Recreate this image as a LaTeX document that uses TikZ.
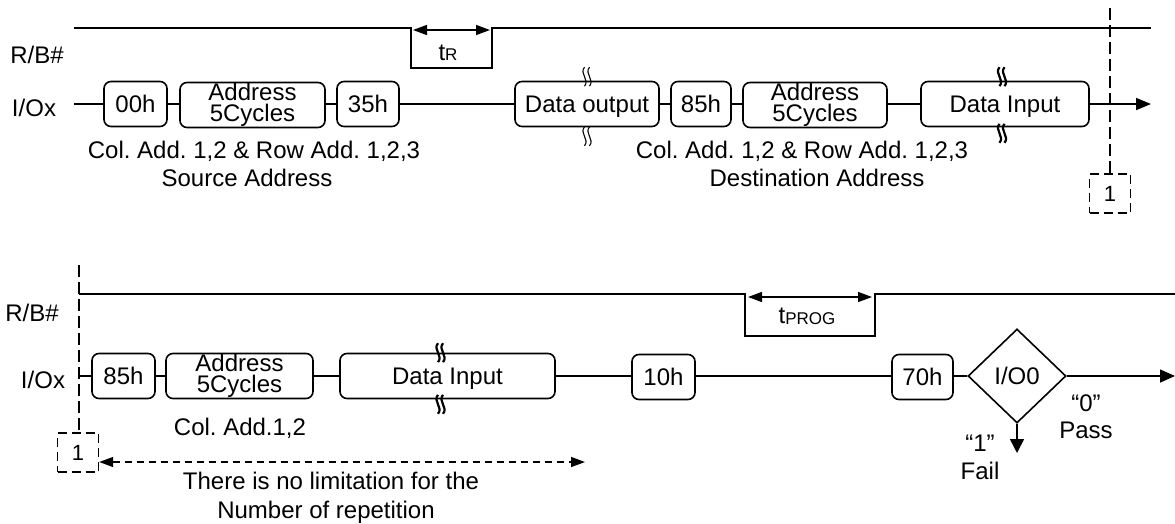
\documentclass[tikz,border=0pt]{standalone}
\usepackage{fontspec}
\setmainfont{Liberation Sans}
\usetikzlibrary{arrows.meta,shapes.geometric}
\tikzset{
  squig/.pic={
    \draw (-2.5,-9.5) .. controls (-8,-3) and (3,3) .. (-2.5,9.5);
    \draw (2.5,-9.5) .. controls (-3,-3) and (8,3) .. (2.5,9.5);
  }
}
\begin{document}
\frenchspacing
\begin{tikzpicture}[x=1pt,y=-1pt,line width=1.6pt,
  every node/.style={font=\fontsize{24}{21}\selectfont, inner sep=0pt},
  txt/.style={text height=17pt,text depth=0pt},
  cell/.style={draw,rounded corners=7pt,minimum height=45pt,align=center},
  dbox/.style={draw,dash pattern=on 9pt off 5pt,minimum width=41pt,minimum height=39pt,
    font=\fontsize{22}{22}\selectfont,text height=15.5pt,text depth=0pt,line width=1.4pt},
  dline/.style={dash pattern=on 12pt off 5pt,line width=1.4pt},
  tip/.style={-{Triangle[length=15pt,width=12pt]}},
  dtip/.style={{Triangle[length=14pt,width=10pt]}-{Triangle[length=14pt,width=10pt]}},
  thin squig/.style={line width=1.1pt},
  bold squig/.style={line width=2.2pt}
]
\useasboundingbox (0,0) rectangle (1175,523);

% ---------------- top diagram ----------------
\node[txt] (rb1) at (37,55) {R/B\#};
\node[txt] (io1) at (34,108) {I/Ox};

% R/B# waveform
\draw (74,28) -- (411,28) -- (411,68) -- (492,68) -- (492,28) -- (1151,28);
\coordinate (trL) at (413,30);
\coordinate (trR) at (490,30);
\draw[dtip,line width=1.4pt] (trL) -- (trR);
\node[txt] (tr) at (448,52) {t{\fontsize{17}{17}\selectfont R}};

% I/O row
\coordinate (iostart1) at (74,104);
\coordinate (ioend1) at (1151,104);
\node[cell,txt,minimum width=63pt] (c00) at (135.5,104) {00h};
\node[cell,minimum width=145pt] (a1) at (252.5,105) {Address\\5Cycles};
\node[cell,txt,minimum width=62pt] (c35) at (368,104) {35h};
\node[cell,txt,minimum width=144pt] (dout) at (587,104) {Data output};
\node[cell,txt,minimum width=60pt] (c85) at (701,104) {85h};
\node[cell,minimum width=144pt] (a2) at (815,105) {Address\\5Cycles};
\node[cell,txt,minimum width=168pt] (din1) at (1005,104) {Data Input};

\draw (iostart1) -- (c00.west);
\draw (c00.east) -- (c00.east -| a1.west);
\draw (a1.east |- c35.west) -- (c35.west);
\draw (c35.east) -- (dout.west);
\draw (dout.east) -- (c85.west);
\draw (c85.east) -- (c85.east -| a2.west);
\draw (a2.east |- din1.west) -- (din1.west);
\draw[tip] (din1.east) -- (ioend1);

\pic[thin squig] at ([yshift=4pt]dout.north) {squig};
\pic[thin squig] at ([yshift=-9pt]dout.south) {squig};
\pic[bold squig] at ([yshift=4pt,xshift=-3pt]din1.north) {squig};
\pic[bold squig] at ([yshift=-6pt,xshift=-3pt]din1.south) {squig};

\node[txt] (s1) at (254,150) {Col. Add. 1,2 \& Row Add. 1,2,3};
\node[txt] (s2) at (247,178) {Source Address};
\node[txt] (d1) at (802,150) {Col. Add. 1,2 \& Row Add. 1,2,3};
\node[txt] (d2) at (817,178) {Destination Address};

\coordinate (v1top) at (1110,8);
\node[dbox] (r1) at (1110,193.5) {1};
\draw[dline] (v1top) -- (r1.north);

% ---------------- bottom diagram ----------------
\node[txt] (rb2) at (32,313) {R/B\#};
\node[txt] (io2) at (43,380) {I/Ox};

\draw (79,294) -- (745,294) -- (745,336) -- (875,336) -- (875,294) -- (1175,294);
\coordinate (tpL) at (748,297);
\coordinate (tpR) at (872,297);
\draw[dtip,line width=1.4pt] (tpL) -- (tpR);
\node[txt] (tp) at (807,315) {t{\fontsize{17}{17}\selectfont\raisebox{-1pt}{PROG}}};

\coordinate (v2top) at (79,265);
\node[dbox] (r2) at (78,452.5) {1};
\draw[dline] (v2top) -- (r2.north -| v2top);

\coordinate (iostart2) at (79,376);
\coordinate (ioend2) at (1175,376);
\node[cell,txt,minimum width=63pt] (b85) at (123.5,376) {85h};
\node[cell,minimum width=147pt] (a3) at (239.5,376) {Address\\5Cycles};
\node[cell,txt,minimum width=215pt] (din2) at (447.5,376) {Data Input};
\node[cell,txt,minimum width=63pt] (c10) at (663.5,377) {10h};
\node[cell,txt,minimum width=61pt] (c70) at (922.5,377) {70h};
\node[draw,diamond,minimum width=98pt,minimum height=94pt,txt] (dec) at (1017,376) {I/O0};

\draw (iostart2) -- (b85.west |- iostart2);
\draw (b85.east) -- (b85.east -| a3.west);
\draw (a3.east) -- (a3.east -| din2.west);
\draw (din2.east) -- (din2.east -| c10.west);
\draw (c10.east |- dec.west) -- (c70.west |- dec.west);
\draw (c70.east |- dec.west) -- (dec.west);
\draw[-{Triangle[length=15pt,width=13pt]}] (dec.east) -- (ioend2);
\coordinate (failend) at (1017,453);
\draw[-{Triangle[length=14pt,width=14pt]}] (dec.south) -- (failend);

\pic[bold squig] at ([yshift=0pt,xshift=-7pt]din2.north) {squig};
\pic[bold squig] at ([yshift=-5pt,xshift=-7pt]din2.south) {squig};

\node[txt] (cadd) at (240,427) {Col. Add.1,2};

\coordinate (repend) at (585,462);
\draw[dtip,dash pattern=on 7pt off 5pt,line width=1.4pt] (r2.east |- repend) -- (repend);
\node[txt] (rep1) at (331,481) {There is no limitation for the};
\node[txt] (rep2) at (326,510) {Number of repetition};

\node[txt] (f1) at (980,443) {“1”};
\node[txt] (f2) at (980,471) {Fail};
\node[txt] (p1) at (1086,403) {“0”};
\node[txt] (p2) at (1086,430) {Pass};
\end{tikzpicture}
\end{document}
